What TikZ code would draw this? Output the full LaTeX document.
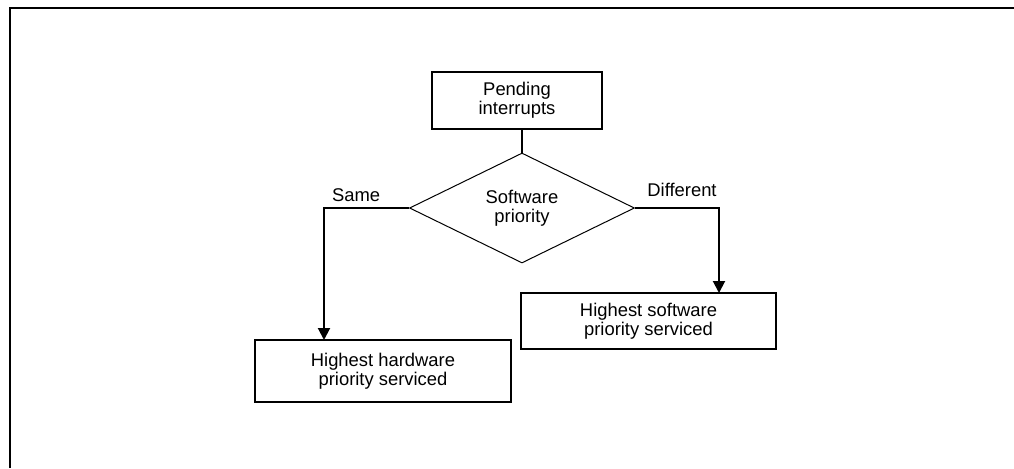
\documentclass[tikz,border=0pt]{standalone}
\usepackage{fontspec}
\setmainfont{Liberation Sans}
\usepackage{tikz}
\usetikzlibrary{calc,positioning,shapes,arrows.meta}

\begin{document}
\begin{tikzpicture}[x=0.5pt, y=-0.5pt,
  every node/.style={font=\fontsize{9.2}{9.6}\selectfont, align=center},
  box/.style={rectangle, draw, line width=1pt, inner sep=0pt},
  choice/.style={diamond, draw, line width=0.5pt, inner sep=0pt, minimum width=112.5pt, minimum height=55pt},
  flow/.style={line width=1pt, -{Triangle[length=6pt, width=6pt]}}]
\useasboundingbox (0,0) rectangle (1014,468);
\draw[line width=1pt] (10,468) -- (10,8) -- (1014,8);
\node[box, minimum width=85pt, minimum height=28.5pt] (pend) at (517,100.5) {Pending\\interrupts};
\node[choice] (prio) at (522,208) {Software\\priority};
\node[box, minimum width=128pt, minimum height=31pt] (hw) at (383,371) {Highest hardware\\priority serviced};
\node[box, minimum width=127.5pt, minimum height=28pt] (sw) at (648.5,321) {Highest software\\priority serviced};
\coordinate (hwin) at (324,340);
\coordinate (swin) at (719,293);
\draw[line width=1pt] (prio.north) -- (prio.north |- pend.south);
\draw[flow] (prio.west) -| (hwin);
\draw[flow] (prio.east) -| (swin);
\node[anchor=west] (same) at (325,195) {Same};
\node (diff) at (682,190) {Different};
\end{tikzpicture}
\end{document}
